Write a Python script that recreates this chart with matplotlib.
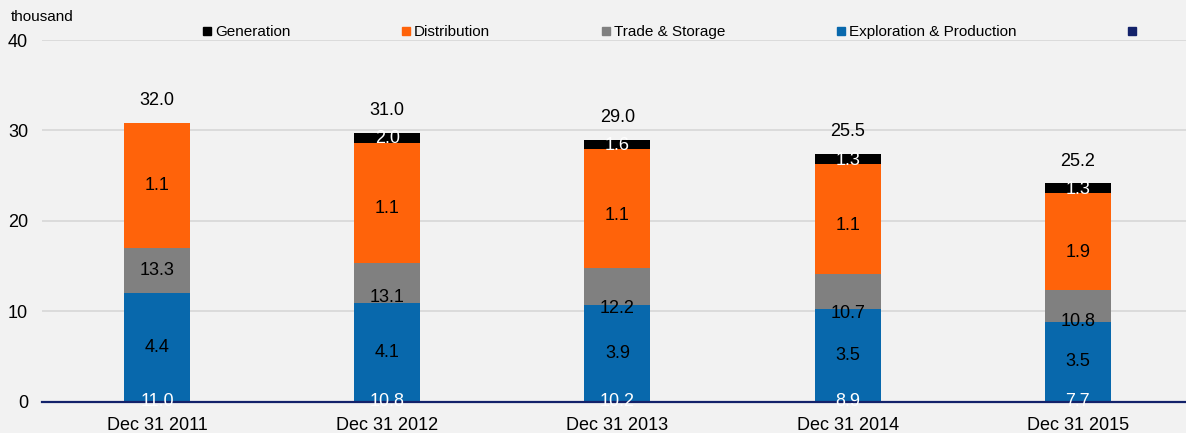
"""Stacked headcount bars by segment, Dec 2011 - Dec 2015."""

import matplotlib

matplotlib.use("Agg")
import matplotlib.pyplot as plt  # noqa: E402
import numpy as np  # noqa: E402
from matplotlib.lines import Line2D  # noqa: E402

# --------------------------------------------------------------------------- #
# Data
# --------------------------------------------------------------------------- #
categories = ["Dec 31 2011", "Dec 31 2012", "Dec 31 2013", "Dec 31 2014", "Dec 31 2015"]
exploration = [12.06, 10.95, 10.73, 10.22, 8.85]
trade = [4.98, 4.43, 4.09, 3.87, 3.54]
distribution = [13.82, 13.27, 13.10, 12.20, 10.69]
generation = [0.0, 1.11, 1.03, 1.08, 1.07]

base_labels = [11.0, 10.8, 10.2, 8.9, 7.7]
blue_labels = [4.4, 4.1, 3.9, 3.5, 3.5]
gray_labels = [13.3, 13.1, 12.2, 10.7, 10.8]
orange_labels = [1.1, 1.1, 1.1, 1.1, 1.9]
black_labels = [None, 2.0, 1.6, 1.3, 1.3]
totals = [32.0, 31.0, 29.0, 25.5, 25.2]

# label nudges (data units, relative to segment centre) to mimic the source
gray_nudge = [0.0, -1.6, -2.45, -2.4, -1.8]
orange_nudge = [0.0, -0.7, -0.75, -0.7, -1.2]

# --------------------------------------------------------------------------- #
# Style
# --------------------------------------------------------------------------- #
BG = "#f2f2f2"
C_BLUE = "#0868ac"
C_GRAY = "#808080"
C_ORANGE = "#ff630a"
C_BLACK = "#000000"
C_NAVY = "#13226a"
GRID = "#d9d9d9"

plt.rcParams["font.family"] = ["Liberation Sans", "DejaVu Sans"]

fig = plt.figure(figsize=(11.86, 4.33), dpi=100, facecolor=BG)
ax = fig.add_axes((0.0354, 0.0723, 0.9646, 0.8353))
ax.set_facecolor(BG)

x = np.arange(len(categories))
w = 0.287
b1 = np.array(exploration)
b2 = b1 + np.array(trade)
b3 = b2 + np.array(distribution)
top = b3 + np.array(generation)

ax.bar(x, exploration, w, color=C_BLUE, zorder=2)
ax.bar(x, trade, w, bottom=b1, color=C_GRAY, zorder=2)
ax.bar(x, distribution, w, bottom=b2, color=C_ORANGE, zorder=2)
ax.bar(x, generation, w, bottom=b3, color=C_BLACK, zorder=2)

fs = 13
for i in range(len(categories)):
    ax.text(x[i], 0, f"{base_labels[i]:.1f}", ha="center", va="center",
            color="white", fontsize=fs, zorder=5)
    ax.text(x[i], b1[i] / 2, f"{blue_labels[i]:.1f}", ha="center", va="center",
            color="black", fontsize=fs, zorder=4)
    ax.text(x[i], (b1[i] + b2[i]) / 2 + gray_nudge[i], f"{gray_labels[i]:.1f}",
            ha="center", va="center", color="black", fontsize=fs, zorder=4)
    ax.text(x[i], (b2[i] + b3[i]) / 2 + orange_nudge[i], f"{orange_labels[i]:.1f}",
            ha="center", va="center", color="black", fontsize=fs, zorder=4)
    if black_labels[i] is not None:
        ax.text(x[i], (b3[i] + top[i]) / 2 - 0.15, f"{black_labels[i]:.1f}",
                ha="center", va="center", color="white", fontsize=fs, zorder=4)
    ax.annotate(f"{totals[i]:.1f}", (x[i], top[i]), xytext=(0, 16),
                textcoords="offset points", ha="center", va="center",
                fontsize=fs, color="black")

ax.set_xlim(-0.5, 4.47)
ax.set_ylim(0, 40)
ax.set_yticks([0, 10, 20, 30, 40])
ax.set_xticks(x)
ax.set_xticklabels(categories, fontsize=fs)
ax.tick_params(axis="y", length=0, pad=10, labelsize=fs)
ax.tick_params(axis="x", length=0, pad=11)
ax.grid(axis="y", color=GRID, linewidth=1.3, zorder=0)
for s in ["left", "right", "top"]:
    ax.spines[s].set_visible(False)
ax.spines["bottom"].set_color(C_NAVY)
ax.spines["bottom"].set_linewidth(1.6)
ax.spines["bottom"].set_zorder(3)

fig.text(11 / 1186, 1 - 17 / 433, "thousand", ha="left", va="center", fontsize=11)

handles = [Line2D([], [], marker="s", linestyle="none", markersize=6, color=c)
           for c in (C_BLACK, C_ORANGE, C_GRAY, C_BLUE, C_NAVY)]
names = ["Generation", "Distribution", "Trade & Storage", "Exploration & Production", ""]
fig.legend(handles, names, loc="center left", bbox_to_anchor=(202 / 1186, 1 - 32 / 433),
           ncol=5, frameon=False, fontsize=11, handlelength=0.6, handletextpad=0.25,
           columnspacing=7.25, borderpad=0, borderaxespad=0)

fig.savefig("out.png", dpi=100, facecolor=BG)
